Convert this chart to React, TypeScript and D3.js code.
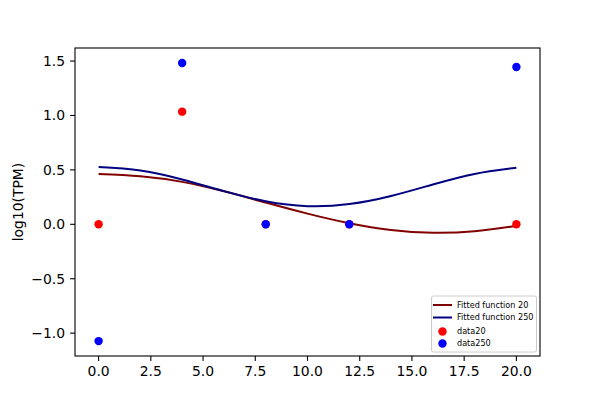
import React from "react";
import * as d3 from "d3";

const W = 600, H = 400;
const M = { left: 75, right: 540, top: 48, bottom: 356 };

const fitX = [0, 2, 4, 6, 8, 10, 12, 14, 16, 18, 20];
const fit20 = [0.463, 0.442, 0.39, 0.303, 0.2, 0.098, 0.01, -0.052, -0.077, -0.063, -0.015];
const fit250 = [0.526, 0.494, 0.412, 0.305, 0.212, 0.167, 0.186, 0.26, 0.366, 0.463, 0.52];

const dataX = [0, 4, 8, 12, 20];
const data20 = [0, 1.035, 0, 0, 0];
const data250 = [-1.073, 1.482, 0, 0, 1.445];

const xTicks = [0, 2.5, 5, 7.5, 10, 12.5, 15, 17.5, 20];
const yTicks = [-1.0, -0.5, 0.0, 0.5, 1.0, 1.5];

const legendItems = [
  { label: "Fitted function 20", type: "line", color: "#800000" },
  { label: "Fitted function 250", type: "line", color: "#000080" },
  { label: "data20", type: "dot", color: "#ff0000" },
  { label: "data250", type: "dot", color: "#0000ff" },
];

export default function App() {
  const x = d3.scaleLinear().domain([-1.13, 21.13]).range([M.left, M.right]);
  const y = d3.scaleLinear().domain([-1.21, 1.62]).range([M.bottom, M.top]);
  const line = d3
    .line<number>()
    .x((_, i) => x(fitX[i]))
    .y((d) => y(d))
    .curve(d3.curveNatural);
  const font = "DejaVu Sans, sans-serif";
  return (
    <svg width={W} height={H} style={{ position: "absolute", left: 0, top: 0 }}>
      <rect width={W} height={H} fill="#fff" />
      <path d={line(fit20) || ""} fill="none" stroke="#800000" strokeWidth={2} />
      <path d={line(fit250) || ""} fill="none" stroke="#000080" strokeWidth={2} />
      {dataX.map((d, i) => (
        <circle key={"r" + i} cx={x(d)} cy={y(data20[i])} r={4.2} fill="#ff0000" />
      ))}
      {dataX.map((d, i) => (
        <circle key={"b" + i} cx={x(d)} cy={y(data250[i])} r={4.2} fill="#0000ff" />
      ))}
      <rect
        x={M.left}
        y={M.top}
        width={M.right - M.left}
        height={M.bottom - M.top}
        fill="none"
        stroke="#000"
        strokeWidth={1.1}
      />
      {xTicks.map((t) => (
        <g key={"x" + t}>
          <line x1={x(t)} x2={x(t)} y1={M.bottom} y2={M.bottom + 4.9} stroke="#000" strokeWidth={1.1} />
          <text x={x(t)} y={M.bottom + 20} textAnchor="middle" fontFamily={font} fontSize={13.9} fill="#000">
            {t.toFixed(1)}
          </text>
        </g>
      ))}
      {yTicks.map((t) => (
        <g key={"y" + t}>
          <line x1={M.left - 4.9} x2={M.left} y1={y(t)} y2={y(t)} stroke="#000" strokeWidth={1.1} />
          <text x={M.left - 10} y={y(t) + 5} textAnchor="end" fontFamily={font} fontSize={13.9} fill="#000">
            {t === 0 ? "0.0" : t.toFixed(1).replace("-", "\u2212")}
          </text>
        </g>
      ))}
      <text
        transform={`translate(23,${(M.top + M.bottom) / 2}) rotate(-90)`}
        textAnchor="middle"
        fontFamily={font}
        fontSize={13.9}
        fill="#000"
      >
        log10(TPM)
      </text>
      <g>
        <rect x={431.5} y={296} width={105} height={56} rx={2} fill="#fff" fillOpacity={0.8} stroke="#ccc" strokeWidth={1} />
        {legendItems.map((it, i) => {
          const cy = [305, 317.5, 331.5, 343.5][i];
          return (
            <g key={it.label}>
              {it.type === "line" ? (
                <line x1={433} x2={452} y1={cy} y2={cy} stroke={it.color} strokeWidth={2} />
              ) : (
                <circle cx={442.5} cy={cy} r={4.2} fill={it.color} />
              )}
              <text x={457} y={cy + 2.9} fontFamily={font} fontSize={8.1} fill="#000">
                {it.label}
              </text>
            </g>
          );
        })}
      </g>
    </svg>
  );
}
